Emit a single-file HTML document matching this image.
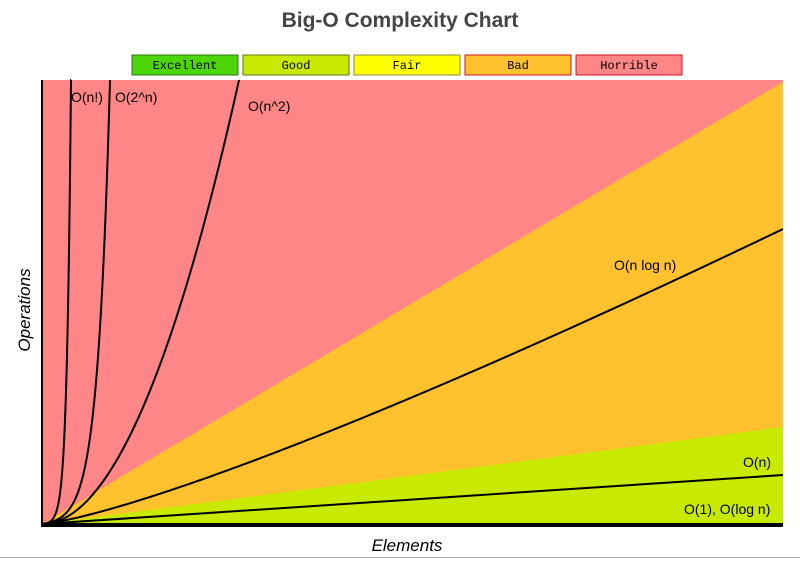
<!DOCTYPE html>
<html><head><style>
body{margin:0;background:#fff;width:800px;height:559px;overflow:hidden;font-family:"Liberation Sans",sans-serif}
</style></head><body>
<svg width="800" height="559" xmlns="http://www.w3.org/2000/svg">
<text x="400" y="27" text-anchor="middle" font-size="21" font-weight="bold" fill="#444">Big-O Complexity Chart</text>
<g font-family="Liberation Mono,monospace" font-size="12" text-anchor="middle">
<rect x="132" y="55" width="106" height="20" fill="#4cd60a" stroke="#2f7a1a"/><text x="185" y="69">Excellent</text>
<rect x="243" y="55" width="106" height="20" fill="#c8ea00" stroke="#5e7a1a"/><text x="296" y="69">Good</text>
<rect x="354" y="55" width="106" height="20" fill="#ffff00" stroke="#8a8a40"/><text x="407" y="69">Fair</text>
<rect x="465" y="55" width="106" height="20" fill="#ffc22e" stroke="#d01020"/><text x="518" y="69">Bad</text>
<rect x="576" y="55" width="106" height="20" fill="#ff8686" stroke="#d01020"/><text x="629" y="69">Horrible</text>
</g>
<rect x="41" y="80" width="742" height="446" fill="#ff8686"/>
<polygon points="42,524 783,82 783,526 42,526" fill="#ffc22e"/>
<polygon points="42,524 783,427 783,526 42,526" fill="#c8ea00"/>
<g id="curves" fill="none" stroke="#000" stroke-width="2"></g>
<line x1="42" y1="524" x2="783" y2="475" stroke="#000" stroke-width="2"/>
<line x1="41" y1="525" x2="783" y2="525" stroke="#000" stroke-width="4"/>
<line x1="42" y1="80" x2="42" y2="526" stroke="#000" stroke-width="2"/>
<g font-size="14" fill="#000">
<text x="71" y="102">O(n!)</text>
<text x="115" y="102">O(2^n)</text>
<text x="248" y="111">O(n^2)</text>
<text x="614" y="270">O(n log n)</text>
<text x="743" y="467">O(n)</text>
<text x="684" y="514">O(1), O(log n)</text>
</g>
<text x="30" y="310" font-size="17" font-style="italic" text-anchor="middle" transform="rotate(-90 30 310)">Operations</text>
<text x="407" y="551" font-size="17" font-style="italic" text-anchor="middle">Elements</text>
<line x1="0" y1="557.5" x2="800" y2="557.5" stroke="#aaa" stroke-width="1"/>
</svg>
<script>
var g=document.getElementById('curves');
function add(f,x0,x1){var d='';for(var i=0;i<=300;i++){var x=x0+(x1-x0)*i/300;var y=f(x);if(y<80){d+=(i?'L':'M')+x.toFixed(2)+','+80;break;}d+=(i?'L':'M')+x.toFixed(2)+','+y.toFixed(2);}
var p=document.createElementNS('http://www.w3.org/2000/svg','path');p.setAttribute('d',d);g.appendChild(p);}
add(function(x){var t=(x-42)/197;return 524-444*t*t;},42,240);
function ex(w,k){return function(x){var t=(x-42)/w;return 524-444*(Math.exp(k*t)-1)/(Math.exp(k)-1);};}
add(ex(68,5.5),42,111);
add(ex(29,7),42,72);
add(function(x){var t=(x-42)/741;var n=1+t*99;var v=n*Math.log(n)/(100*Math.log(100));return 524-295*v;},42,783);
</script>
</body></html>
